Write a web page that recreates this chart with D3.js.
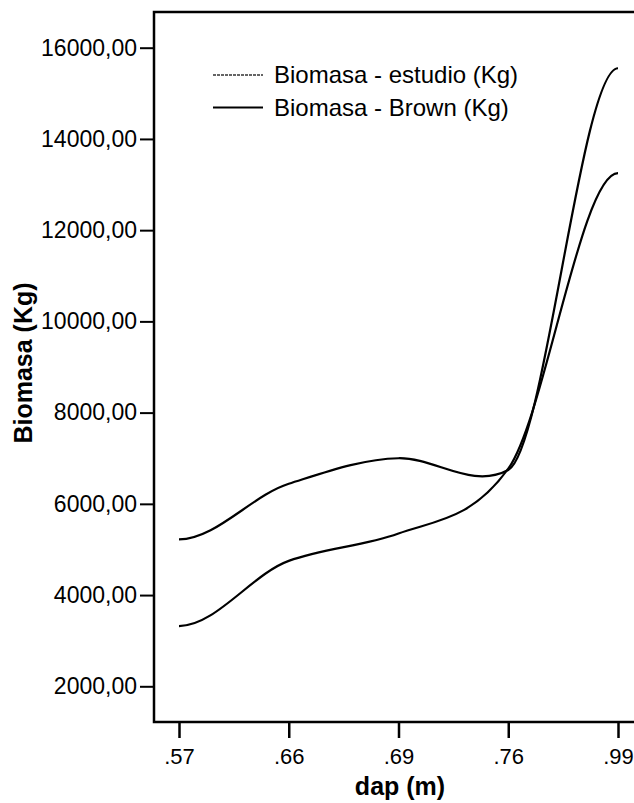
<!DOCTYPE html>
<html>
<head>
<meta charset="utf-8">
<script src="https://cdn.jsdelivr.net/npm/d3@7"></script>
<style>
  body { margin: 0; background: #fff; }
  svg { display: block; font-family: "Liberation Sans", Arial, sans-serif; }
</style>
</head>
<body>
<svg width="634" height="803"></svg>
<script>
// dap categories (m) and biomass values
const dap = [".57", ".66", ".69", ".76", ".99"];
const estudio = [5220, 6440, 7000, 6740, 15550];
const brown = [3320, 4750, 5350, 6770, 13250];
const yTicks = [2000, 4000, 6000, 8000, 10000, 12000, 14000, 16000];
const legendLabels = ["Biomasa - estudio (Kg)", "Biomasa - Brown (Kg)"];

const svg = d3.select("svg");
const frame = {left: 154, top: 12, bottom: 722, right: 646};

const x = d3.scalePoint()
  .domain(dap)
  .range([179, 618]);

const y = d3.scaleLinear()
  .domain([2000, 16000])
  .range([686.3, 47.7]);

// smooth curve through the points, flat at both ends
function spline(context) {
  let xs, ys;
  return {
    areaStart() {}, areaEnd() {},
    lineStart() { xs = []; ys = []; },
    point(px, py) { xs.push(+px); ys.push(+py); },
    lineEnd() {
      const n = xs.length;
      const m = xs.map((_, i) => {
        if (i === 0 || i === n - 1) return 0;
        const s0 = ys[i] - ys[i - 1], s1 = ys[i + 1] - ys[i];
        const k = Math.sign(s0) !== Math.sign(s1) ? 0.3 : 0.85;
        return k * (ys[i + 1] - ys[i - 1]) / (xs[i + 1] - xs[i - 1]);
      });
      context.moveTo(xs[0], ys[0]);
      for (let i = 0; i < n - 1; i++) {
        const h = (xs[i + 1] - xs[i]) / 3;
        context.bezierCurveTo(xs[i] + h, ys[i] + m[i] * h,
          xs[i + 1] - h, ys[i + 1] - m[i + 1] * h, xs[i + 1], ys[i + 1]);
      }
    }
  };
}

const line = d3.line()
  .x((d, i) => x(dap[i]))
  .y(d => y(d))
  .curve(spline);

[estudio, brown].forEach(s => {
  svg.append("path")
    .attr("d", line(s))
    .attr("fill", "none")
    .attr("stroke", "#000")
    .attr("stroke-width", 2.2);
});

// frame
svg.append("path")
  .attr("d", `M${frame.right},${frame.top}H${frame.left}V${frame.bottom}H${frame.right}`)
  .attr("fill", "none")
  .attr("stroke", "#000")
  .attr("stroke-width", 2.5);

// y axis
const yAxis = svg.append("g")
  .attr("transform", `translate(${frame.left},0)`)
  .call(d3.axisLeft(y)
    .tickValues(yTicks)
    .tickSize(14)
    .tickSizeOuter(0)
    .tickPadding(3)
    .tickFormat(d => d3.format(".2f")(d).replace(".", ",")));
yAxis.select(".domain").remove();
yAxis.selectAll(".tick line").attr("stroke-width", 2);
yAxis.selectAll(".tick text")
  .attr("fill", "#000")
  .style("font-size", "23px");

// x axis
const xAxis = svg.append("g")
  .attr("transform", `translate(0,${frame.bottom})`)
  .call(d3.axisBottom(x).tickSize(16).tickSizeOuter(0).tickPadding(10));
xAxis.select(".domain").remove();
xAxis.selectAll(".tick line").attr("stroke-width", 2.5);
xAxis.selectAll(".tick text")
  .attr("fill", "#000")
  .style("font-size", "22px");

// axis titles
svg.append("text")
  .attr("x", 400)
  .attr("y", 795)
  .attr("text-anchor", "middle")
  .style("font-size", "25px")
  .style("font-weight", "bold")
  .text("dap (m)");

svg.append("text")
  .attr("transform", "translate(32,363) rotate(-90)")
  .attr("text-anchor", "middle")
  .style("font-size", "25px")
  .style("font-weight", "bold")
  .text("Biomasa (Kg)");

// legend
const legend = svg.append("g");
legendLabels.forEach((lab, i) => {
  const ly = 75 + i * 32.5;
  legend.append("line")
    .attr("x1", 213).attr("x2", 263)
    .attr("y1", ly).attr("y2", ly)
    .attr("stroke", i === 0 ? "#333" : "#000")
    .attr("stroke-width", i === 0 ? 1.3 : 2.2)
    .attr("stroke-dasharray", i === 0 ? "3,1" : null);
  legend.append("text")
    .attr("x", 274)
    .attr("y", ly + 8)
    .style("font-size", "24px")
    .text(lab);
});
</script>
</body>
</html>
